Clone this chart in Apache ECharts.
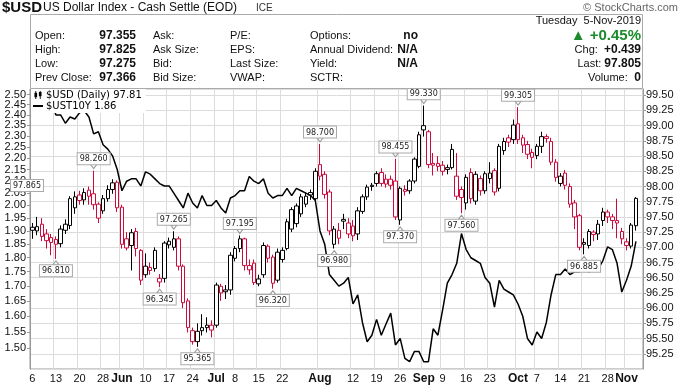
<!DOCTYPE html>
<html><head><meta charset="utf-8">
<script src="https://cdn.jsdelivr.net/npm/echarts@6/dist/echarts.min.js"></script>
<style>html,body{margin:0;padding:0;background:#fff}#c{width:682px;height:385px}</style>
</head><body><div id="c"></div>
<script>
// ---- trading days ----
const mayDays=[6,7,8,9,10,13,14,15,16,17,20,21,22,23,24,28,29,30,31];
const junDays=[3,4,5,6,7,10,11,12,13,14,17,18,19,20,21,24,25,26,27,28];
const julDays=[1,2,3,5,8,9,10,11,12,15,16,17,18,19,22,23,24,25,26,29,30,31];
const augDays=[1,2,5,6,7,8,9,12,13,14,15,16,19,20,21,22,23,26,27,28,29,30];
const sepDays=[3,4,5,6,9,10,11,12,13,16,17,18,19,20,23,24,25,26,27,30];
const octDays=[1,2,3,4,7,8,9,10,11,14,15,16,17,18,21,22,23,24,25,28,29,30,31];
const novDays=[1,4,5];

// ---- x tick labels ----
const xTickDates=["May 6","May 13","May 20","May 28","Jun 3","Jun 10","Jun 17","Jun 24","Jul 1","Jul 8","Jul 15","Jul 22","Aug 1","Aug 12","Aug 19","Aug 26","Sep 3","Sep 9","Sep 16","Sep 23","Oct 1","Oct 7","Oct 14","Oct 21","Oct 28","Nov 1"];
const xTickTexts=["6","13","20","28","Jun","10","17","24","Jul","8","15","22","Aug","12","19","26","Sep","9","16","23","Oct","7","14","21","28","Nov"];

// ---- $USD daily OHLC ----
const opens=[97.33,97.27,97.38,97.22,97.16,97.13,97.06,97.28,97.36,97.65,
97.86,97.78,97.94,97.88,97.71,97.60,97.80,97.95,98.07,97.66,
97.14,97.03,97.26,96.95,96.55,96.67,96.65,96.43,96.49,97.04,
97.00,97.14,96.69,96.12,95.63,95.45,95.63,95.68,95.72,95.72,
96.36,96.27,96.30,96.82,96.98,97.14,96.70,96.74,96.40,96.55,
97.02,96.84,96.46,96.80,96.98,97.30,97.39,97.55,97.71,97.90,
97.80,98.36,98.20,97.91,97.05,97.28,97.46,97.40,97.35,97.22,
97.59,97.83,98.02,98.05,98.23,98.12,98.12,98.09,97.45,97.95,
97.93,98.09,98.33,99.00,98.90,98.38,98.38,98.35,98.28,98.31,
98.17,97.95,97.73,98.23,97.76,98.13,97.93,98.13,98.26,97.97,
98.59,98.80,98.77,99.03,98.80,98.69,98.56,98.51,98.66,98.82,
98.74,98.40,98.05,98.22,98.00,97.73,97.52,97.08,97.03,97.25,
97.22,97.44,97.58,97.50,97.44,97.26,97.09,97.02,97.355];
const closes=[97.28,97.34,97.18,97.11,97.08,97.05,97.30,97.38,97.80,97.83,
97.77,97.90,97.84,97.70,97.48,97.80,97.95,98.06,97.65,97.05,
96.99,97.24,96.98,96.46,96.69,96.62,96.95,96.49,97.07,97.10,
97.14,96.69,96.09,95.68,95.45,95.62,95.68,95.72,95.64,96.38,
96.25,96.30,96.87,96.98,97.14,96.70,96.63,96.42,96.48,97.03,
96.82,96.41,96.92,96.95,97.42,97.62,97.68,97.83,97.84,97.86,
98.25,98.17,97.87,97.27,97.30,97.15,97.43,97.22,97.19,97.60,
97.83,97.99,98.00,98.21,98.05,98.04,98.02,97.50,97.97,97.92,
98.09,98.45,98.85,98.93,98.36,98.35,98.33,98.25,98.31,98.61,
97.84,97.82,98.15,97.80,98.20,97.93,98.21,98.22,97.91,98.66,
98.74,98.73,99.01,98.77,98.68,98.53,98.48,98.66,98.82,98.79,
98.40,98.15,98.17,98.02,97.71,97.50,97.00,97.05,97.26,97.21,
97.38,97.58,97.50,97.44,97.40,97.14,97.03,97.366,97.805];
const lows=[97.14,97.20,97.10,96.98,96.87,96.81,97.00,97.22,97.30,97.55,
97.70,97.70,97.70,97.62,97.40,97.55,97.75,97.88,97.58,96.98,
96.95,96.62,96.85,96.38,96.50,96.55,96.60,96.345,96.42,96.98,
96.95,96.62,96.00,95.60,95.40,95.365,95.55,95.60,95.52,95.68,
96.12,96.15,96.22,96.77,96.92,96.62,96.55,96.38,96.36,96.50,
96.75,96.32,96.42,96.75,96.95,97.25,97.33,97.50,97.66,97.78,
97.76,98.10,97.80,97.20,96.98,97.05,97.30,97.15,97.10,97.12,
97.55,97.78,97.93,98.00,98.00,97.98,97.95,97.45,97.37,97.85,
97.88,98.05,98.30,98.82,98.30,98.18,98.25,98.18,98.20,98.28,
97.78,97.56,97.62,97.72,97.70,97.85,97.88,98.05,97.85,97.92,
98.52,98.65,98.70,98.70,98.55,98.45,98.30,98.45,98.55,98.72,
98.35,98.08,98.00,97.95,97.65,97.30,96.95,96.885,96.98,97.10,
97.12,97.35,97.40,97.30,97.15,97.05,96.95,96.98,97.275];
const highs=[97.40,97.50,97.48,97.30,97.22,97.18,97.36,97.46,97.84,97.92,
97.93,97.97,98.00,98.26,97.74,97.86,98.02,98.12,98.10,97.70,
97.25,97.30,97.32,96.97,96.90,96.75,97.00,96.56,97.10,97.16,
97.265,97.18,96.72,96.16,95.68,95.75,95.90,95.85,95.80,96.42,
96.40,96.38,96.92,97.02,97.195,97.16,96.80,96.80,96.55,97.08,
97.05,96.88,96.98,97.00,97.47,97.66,97.72,97.88,97.90,97.95,
98.30,98.70,98.25,97.95,97.35,97.40,97.55,97.48,97.45,97.66,
97.87,98.03,98.06,98.25,98.30,98.20,98.18,98.455,98.00,98.02,
98.12,98.48,98.90,99.33,98.93,98.55,98.50,98.42,98.36,98.70,
98.55,98.00,98.20,98.30,98.25,98.18,98.25,98.40,98.30,98.70,
98.80,98.85,99.10,99.305,98.85,98.75,98.62,98.70,98.90,98.86,
98.80,98.45,98.22,98.27,98.05,97.78,97.55,97.15,97.30,97.28,
97.45,97.65,97.62,97.55,97.80,97.32,97.15,97.40,97.825];

// ---- $UST10Y daily close ----
const ust10y=[2.47,2.45,2.48,2.45,2.47,2.40,2.40,2.36,2.39,2.38,
2.41,2.42,2.39,2.31,2.32,2.26,2.24,2.21,2.15,2.06,
2.10,2.11,2.11,2.08,2.14,2.13,2.11,2.09,2.08,2.08,
2.05,2.02,1.99,2.05,2.01,1.99,2.04,2.00,2.00,2.02,
1.99,1.97,2.03,2.04,2.06,2.06,2.12,2.10,2.09,2.11,
2.05,2.03,2.04,2.04,2.07,2.04,2.07,2.06,2.05,2.04,
2.02,1.90,1.85,1.74,1.72,1.70,1.71,1.73,1.64,1.67,
1.58,1.52,1.54,1.59,1.54,1.575,1.61,1.51,1.53,1.47,
1.46,1.49,1.49,1.46,1.46,1.56,1.54,1.62,1.71,1.74,
1.78,1.89,1.83,1.80,1.79,1.78,1.73,1.71,1.63,1.72,
1.69,1.68,1.67,1.64,1.60,1.53,1.51,1.55,1.53,1.58,
1.67,1.74,1.74,1.76,1.74,1.75,1.75,1.76,1.75,1.76,
1.76,1.79,1.84,1.83,1.78,1.68,1.72,1.77,1.86];

// ---- annotated highs / lows (indices into the daily arrays) ----
const highMarks=[13,30,44,61,77,83,103];
const lowMarks=[5,27,35,51,64,78,91,117];

// ---- axis tick values ----
const priceTicks={min:95.0,max:99.6026,step:0.25};
const yieldTicks=[1.50,1.55,1.60,1.65,1.70,1.75,1.80,1.85,1.90,1.95,2.00,2.05,2.10,2.15,2.20,2.25,2.30,2.35,2.40,2.45,2.50];
const yieldRange=[1.4387,2.5285];

// ---- build ----
const categories=[];
[['May',mayDays],['Jun',junDays],['Jul',julDays],['Aug',augDays],['Sep',sepDays],['Oct',octDays],['Nov',novDays]]
  .forEach(([m,ds])=>ds.forEach(d=>categories.push(m+' '+d)));
categories.push('');
const tickMap=new Map(xTickDates.map((d,i)=>[d,xTickTexts[i]]));

const RED='#cc0a3c', BLK='#000';
const candleData=opens.map((o,i)=>{
  const c=closes[i];
  const prev=i===0?-Infinity:closes[i-1];
  const col=c>=prev?BLK:RED;
  return {value:[o,c,lows[i],highs[i]],
    itemStyle:{color:'#fff',color0:col,borderColor:col,borderColor0:col}};
});
const lineData=ust10y.map(v=>Math.log(v));
const fmt2=v=>(v+1e-9).toFixed(2);
// label order: keep ends apart so the library's end-label overlap rule does not drop any label
const n=yieldTicks.length;
const yieldLabelOrder=[yieldTicks[0],yieldTicks[n-1]].concat(yieldTicks.slice(2,n-1),[yieldTicks[1]]).map(Math.log);

const AX='Liberation Sans, Arial, sans-serif';
const markData=[
  ...highMarks.map(i=>({coord:[categories[i],highs[i]],value:highs[i],symbolRotate:180,symbolOffset:[0,-4],
     label:{position:'top',distance:0}})),
  ...lowMarks.map(i=>({coord:[categories[i],lows[i]],value:lows[i],symbolOffset:[0,4],
     label:{position:'bottom',distance:0}}))
];

const F='11px '+AX;
const hdr=(text,x,y,opt={})=>({type:'text',x:x,y:y,silent:true,z:100,
  style:Object.assign({text:text,font:F,fill:'#111',textAlign:'left',textVerticalAlign:'middle'},opt)});
const B='bold 12px '+AX;
const graphics=[
  {type:'rect',silent:true,z:90,shape:{x:30.5,y:14.5,width:612,height:74},style:{fill:'#fff',stroke:'#aaa',lineWidth:1}},
  hdr('$USD',2,8,{font:'bold 15px '+AX}),
  hdr('US Dollar Index - Cash Settle (EOD)',43,8,{font:'12px '+AX}),
  hdr('ICE',256,8,{font:'10px '+AX,fill:'#333'}),
  hdr('\u00A9 StockCharts.com',678,8,{font:'11px '+AX,fill:'#666',textAlign:'right'}),
  hdr('Open:',35,36),hdr('High:',35,50),hdr('Low:',35,64),hdr('Prev Close:',35,78),
  hdr('97.355',136,36,{font:B,textAlign:'right'}),hdr('97.825',136,50,{font:B,textAlign:'right'}),
  hdr('97.275',136,64,{font:B,textAlign:'right'}),hdr('97.366',136,78,{font:B,textAlign:'right'}),
  hdr('Ask:',153,36),hdr('Ask Size:',153,50),hdr('Bid:',153,64),hdr('Bid Size:',153,78),
  hdr('P/E:',230,36),hdr('EPS:',230,50),hdr('Last Size:',230,64),hdr('VWAP:',230,78),
  hdr('Options:',310,36),hdr('Annual Dividend:',310,50),hdr('Yield:',310,64),hdr('SCTR:',310,78),
  hdr('no',418,36,{font:B,textAlign:'right'}),hdr('N/A',418,50,{font:B,textAlign:'right'}),hdr('N/A',418,64,{font:B,textAlign:'right'}),
  hdr('Tuesday  5-Nov-2019',641,21,{textAlign:'right'}),
  hdr('\u25B2 +0.45%',641,36,{font:'bold 15px '+AX,fill:'#1a8a2a',textAlign:'right'}),
  hdr('{a|Chg:}  {b|+0.439}',641,50,{textAlign:'right',rich:{a:{font:F,fill:'#111'},b:{font:B,fill:'#111'}}}),
  hdr('{a|Last:} {b|97.805}',641,64,{textAlign:'right',rich:{a:{font:F,fill:'#111'},b:{font:B,fill:'#111'}}}),
  hdr('Volume:',588,78),hdr('0',641,78,{font:B,textAlign:'right'}),
  {type:'text',x:11,y:180,z:100,silent:true,style:{text:'97.865',font:'8px DejaVu Sans',fill:'#222',
    backgroundColor:'#fff',borderColor:'#aaa',borderWidth:1,padding:[2,2,1,2]}}
];

const chart=echarts.init(document.getElementById('c'),null,{renderer:'canvas'});
chart.setOption({
  animation:false,
  backgroundColor:'#fff',
  grid:{left:30,right:39,top:89,bottom:13.35,show:true,borderColor:'#999',borderWidth:1,backgroundColor:'#fff'},
  legend:{left:31,top:89,orient:'vertical',itemGap:1,itemWidth:10,itemHeight:8,padding:[1,4,2,2],
    backgroundColor:'#fff',
    textStyle:{fontFamily:'DejaVu Sans',fontSize:10,color:'#000',padding:[0,0,0,-2]},
    formatter:nm=>nm==='$USD (Daily)'?nm+' '+fmt2(closes[closes.length-1]):nm+' '+fmt2(ust10y[ust10y.length-1]),
    data:[{name:'$USD (Daily)',icon:'path://M0,2H3V7H0Z M1,0H2V9H1Z M5,1H8V6H5Z M6,0H7V9H6Z',itemStyle:{color:'#000',borderWidth:0}},
          {name:'$UST10Y',icon:'path://M0,3.5H10V5.5H0Z',itemStyle:{color:'#000',borderWidth:0}}]},
  xAxis:{type:'category',data:categories,boundaryGap:true,
    axisLine:{show:false},axisTick:{show:false},
    axisLabel:{interval:(i,v)=>tickMap.has(v),margin:4,fontFamily:AX,fontSize:11,color:'#111',
      formatter:v=>{const t=tickMap.get(v)||'';return /[A-Z]/.test(t)?'{b|'+t+'}':t;},
      rich:{b:{fontFamily:AX,fontSize:12,fontWeight:'bold',color:'#111'}}},
    splitLine:{show:true,interval:(i,v)=>tickMap.has(v),lineStyle:{color:'#dcdcdc',width:1}}},
  yAxis:[
    {type:'value',position:'right',min:priceTicks.min,max:priceTicks.max,interval:priceTicks.step,
     axisLine:{show:true,lineStyle:{color:'#999'}},axisTick:{show:true,length:3,lineStyle:{color:'#999'}},
     axisLabel:{margin:3,fontFamily:AX,fontSize:11,color:'#111',showMinLabel:false,showMaxLabel:false,formatter:v=>v.toFixed(2)},
     splitLine:{show:true,lineStyle:{color:'#dcdcdc',width:1}}},
    {type:'value',position:'left',min:Math.log(yieldRange[0]),max:Math.log(yieldRange[1]),
     axisLine:{show:true,lineStyle:{color:'#999'}},
     axisTick:{show:true,length:3,lineStyle:{color:'#999'},customValues:yieldTicks.map(Math.log)},
     axisLabel:{margin:4,fontFamily:AX,fontSize:11,color:'#111',showMinLabel:true,showMaxLabel:true,hideOverlap:false,
       customValues:yieldLabelOrder,formatter:v=>fmt2(Math.exp(v))},
     splitLine:{show:false}}
  ],
  series:[
    {name:'$USD (Daily)',type:'candlestick',yAxisIndex:0,barWidth:4,data:candleData,z:2,
     itemStyle:{borderWidth:1},
     markPoint:{silent:true,symbol:'triangle',symbolSize:[6,4],
       itemStyle:{color:'#fff',borderColor:'#999',borderWidth:1},
       label:{show:true,formatter:p=>Number(p.value).toFixed(3),backgroundColor:'#fff',borderColor:'#aaa',borderWidth:1,
         padding:[2,2,1,2],fontFamily:'DejaVu Sans',fontSize:8,color:'#222'},
       data:markData}},
    {name:'$UST10Y',type:'line',yAxisIndex:1,data:lineData,symbol:'none',z:3,
     lineStyle:{color:'#000',width:1.5},itemStyle:{color:'#000'}}
  ],
  graphic:graphics
});
</script></body></html>
